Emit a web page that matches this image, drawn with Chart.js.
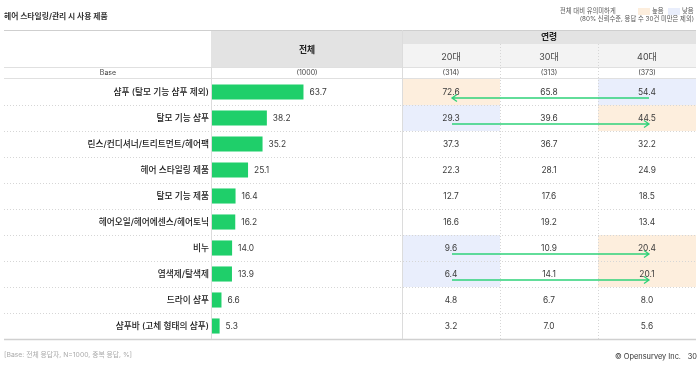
<!DOCTYPE html>
<html>
<head>
<meta charset="utf-8">
<script src="https://cdn.jsdelivr.net/npm/chart.js@4/dist/chart.umd.min.js"></script>
<style>
  html, body { margin: 0; padding: 0; background: #fff; }
  canvas { display: block; }
</style>
</head>
<body>
<canvas id="chart" width="700" height="371"></canvas>
<script>
const categories = [
  '샴푸 (탈모 기능 샴푸 제외)', '탈모 기능 샴푸', '린스/컨디셔너/트리트먼트/헤어팩',
  '헤어 스타일링 제품', '탈모 기능 제품', '헤어오일/헤어에센스/헤어토닉',
  '비누', '염색제/탈색제', '드라이 샴푸', '샴푸바 (고체 형태의 샴푸)'
]
const total = [63.7, 38.2, 35.2, 25.1, 16.4, 16.2, 14.0, 13.9, 6.6, 5.3]
const age20 = [72.6, 29.3, 37.3, 22.3, 12.7, 16.6, 9.6, 6.4, 4.8, 3.2]
const age30 = [65.8, 39.6, 36.7, 28.1, 17.6, 19.2, 10.9, 14.1, 6.7, 7.0]
const age40 = [54.4, 44.5, 32.2, 24.9, 18.5, 13.4, 20.4, 20.1, 8.0, 5.6]
const ageLabels = ['20대', '30대', '40대']
const bases = ['(1000)', '(314)', '(313)', '(373)']
// significance vs total: 'H' higher, 'L' lower
const sig20 = ['H', 'L', '', '', '', '', 'L', 'L', '', '']
const sig30 = ['', '', '', '', '', '', '', '', '', '']
const sig40 = ['L', 'H', '', '', '', '', 'H', 'H', '', '']
// trend arrows across age groups
const arrows = ['left', 'right', '', '', '', '', 'right', 'right', '', '']

const KR = 'Inter, "Noto Sans CJK KR", sans-serif'
const HIGH = '#fdeedd'
const LOW = '#e9eefc'
const GREEN = '#1fcf6a'

const colEdges = [402, 500, 598, 696]
const tableLeft = 4

function dotted(ctx, x1, y1, x2, y2, color) {
  ctx.save()
  ctx.strokeStyle = color
  ctx.lineWidth = 1
  ctx.setLineDash([1, 2])
  ctx.beginPath()
  ctx.moveTo(x1, y1)
  ctx.lineTo(x2, y2)
  ctx.stroke()
  ctx.restore()
}

function solid(ctx, x1, y1, x2, y2, color, w) {
  ctx.save()
  ctx.strokeStyle = color
  ctx.lineWidth = w || 1
  ctx.beginPath()
  ctx.moveTo(x1, y1)
  ctx.lineTo(x2, y2)
  ctx.stroke()
  ctx.restore()
}

const tablePlugin = {
  id: 'surveyTable',
  beforeDatasetsDraw(chart) {
    const { ctx, chartArea } = chart
    const y = chart.scales.y
    const band = (chartArea.bottom - chartArea.top) / categories.length
    const right = colEdges[3]
    const headTop = 30, ageTop = 44, baseTop = 67, baseBot = chartArea.top - 1

    ctx.save()
    // header backgrounds
    ctx.fillStyle = '#e3e3e3'
    ctx.fillRect(chartArea.left - 1, headTop, colEdges[0] - chartArea.left + 1, baseTop - headTop)
    ctx.fillRect(colEdges[0], headTop, right - colEdges[0], ageTop - headTop)
    ctx.fillStyle = '#f3f3f3'
    ctx.fillRect(colEdges[0], ageTop, right - colEdges[0], baseTop - ageTop)

    // highlighted cells
    const sigs = [sig20, sig30, sig40]
    sigs.forEach((s, c) => {
      s.forEach((v, i) => {
        if (!v) return
        const cy = y.getPixelForValue(i)
        ctx.fillStyle = v === 'H' ? HIGH : LOW
        ctx.fillRect(colEdges[c], cy - band / 2, colEdges[c + 1] - colEdges[c], band)
      })
    })

    // lines
    solid(ctx, tableLeft, headTop + 0.5, right, headTop + 0.5, '#cfcfcf')
    solid(ctx, tableLeft, baseTop + 0.5, right, baseTop + 0.5, '#e0e0e0')
    solid(ctx, tableLeft, baseBot + 0.5, right, baseBot + 0.5, '#e0e0e0')
    for (let i = 1; i < categories.length; i++) {
      const ly = Math.round(y.getPixelForValue(i) - band / 2) + 0.5
      dotted(ctx, tableLeft, ly, right, ly, '#d6d6d6')
    }
    solid(ctx, tableLeft, chartArea.bottom + 0.5, right, chartArea.bottom + 0.5, '#d0d0d0', 1.5)
    solid(ctx, chartArea.left - 0.5, baseTop, chartArea.left - 0.5, chartArea.bottom, '#dcdcdc')
    solid(ctx, colEdges[0] + 0.5, headTop, colEdges[0] + 0.5, chartArea.bottom, '#dcdcdc')
    dotted(ctx, colEdges[1] + 0.5, ageTop, colEdges[1] + 0.5, chartArea.bottom, '#d6d6d6')
    dotted(ctx, colEdges[2] + 0.5, ageTop, colEdges[2] + 0.5, chartArea.bottom, '#d6d6d6')

    // header texts
    ctx.textBaseline = 'middle'
    ctx.textAlign = 'center'
    ctx.fillStyle = '#222'
    ctx.font = 'bold 8.8px ' + KR
    ctx.fillText('전체', (chartArea.left + colEdges[0]) / 2, 50)
    ctx.fillText('연령', (colEdges[0] + right) / 2, 37)
    ctx.font = '9px ' + KR
    ctx.fillStyle = '#444'
    ageLabels.forEach((t, c) => ctx.fillText(t, (colEdges[c] + colEdges[c + 1]) / 2, 57))

    // base row
    const by = (baseTop + baseBot) / 2 + 0.5
    ctx.font = '7px ' + KR
    ctx.fillStyle = '#444'
    ctx.fillText('Base', (tableLeft + chartArea.left) / 2, by)
    ctx.fillText(bases[0], (chartArea.left + colEdges[0]) / 2, by)
    for (let c = 0; c < 3; c++) ctx.fillText(bases[c + 1], (colEdges[c] + colEdges[c + 1]) / 2, by)

    // category labels and age values
    const cols = [age20, age30, age40]
    categories.forEach((cat, i) => {
      const cy = y.getPixelForValue(i)
      ctx.textAlign = 'right'
      ctx.fillStyle = '#1a1a1a'
      ctx.font = '500 8.7px ' + KR
      ctx.fillText(cat, chartArea.left - 3, cy)
      ctx.textAlign = 'center'
      ctx.fillStyle = '#3a3a3a'
      ctx.font = '8.4px ' + KR
      cols.forEach((arr, c) => {
        ctx.fillText(arr[i].toFixed(1), (colEdges[c] + colEdges[c + 1]) / 2, cy)
      })
    })
    ctx.restore()
  },
  afterDatasetsDraw(chart) {
    const { ctx } = chart
    const y = chart.scales.y
    const meta = chart.getDatasetMeta(0)
    ctx.save()
    ctx.textBaseline = 'middle'
    ctx.textAlign = 'left'
    ctx.fillStyle = '#3a3a3a'
    ctx.font = '8.4px ' + KR
    meta.data.forEach((bar, i) => {
      ctx.fillText(total[i].toFixed(1), bar.x + 6, bar.y)
    })

    // trend arrows
    const xa = 452
    const xb = 649
    ctx.strokeStyle = '#2fd27a'
    ctx.lineWidth = 1.3
    arrows.forEach((dir, i) => {
      if (!dir) return
      const ay = Math.round(y.getPixelForValue(i) + 6)
      const tip = dir === 'left' ? xa : xb
      const d = dir === 'left' ? 1 : -1
      ctx.beginPath()
      ctx.moveTo(xa, ay)
      ctx.lineTo(xb, ay)
      ctx.moveTo(tip + d * 5, ay - 3.5)
      ctx.lineTo(tip, ay)
      ctx.lineTo(tip + d * 5, ay + 3.5)
      ctx.stroke()
    })

    // title, legend, footer
    ctx.fillStyle = '#333'
    ctx.font = 'bold 7.8px ' + KR
    ctx.fillText('헤어 스타일링/관리 시 사용 제품', 4, 17)

    ctx.font = '6.3px ' + KR
    ctx.fillStyle = '#555'
    ctx.fillText('전체 대비 유의미하게', 560, 11)
    ctx.fillStyle = HIGH
    ctx.fillRect(638, 8, 12, 7)
    ctx.fillStyle = LOW
    ctx.fillRect(668, 8, 12, 7)
    ctx.fillStyle = '#555'
    ctx.fillText('높음', 652, 11)
    ctx.fillText('낮음', 682, 11)
    ctx.textAlign = 'right'
    ctx.fillText('(80% 신뢰수준, 응답 수 30건 미만은 제외)', 694, 19.5)

    ctx.textAlign = 'left'
    ctx.fillStyle = '#aaa'
    ctx.font = '6.8px ' + KR
    ctx.fillText('[Base: 전체 응답자, N=1000, 중복 응답, %]', 4, 355)

    ctx.fillStyle = '#333'
    ctx.font = '7.4px ' + KR
    ctx.textAlign = 'right'
    ctx.fillText('© Opensurvey Inc.', 681, 357)
    ctx.fillText('30', 697, 357)
    ctx.restore()
  }
}

new Chart(document.getElementById('chart'), {
  type: 'bar',
  data: {
    labels: categories,
    datasets: [{
      data: total,
      backgroundColor: GREEN,
      borderWidth: 0,
      categoryPercentage: 1,
      barPercentage: 0.58
    }]
  },
  options: {
    indexAxis: 'y',
    responsive: false,
    animation: false,
    events: [],
    layout: { padding: { left: 212, right: 297, top: 79, bottom: 32 } },
    plugins: { legend: { display: false }, tooltip: { enabled: false } },
    scales: {
      x: { display: false, min: 0, max: 133 },
      y: { display: false }
    }
  },
  plugins: [tablePlugin]
})
</script>
</body>
</html>
